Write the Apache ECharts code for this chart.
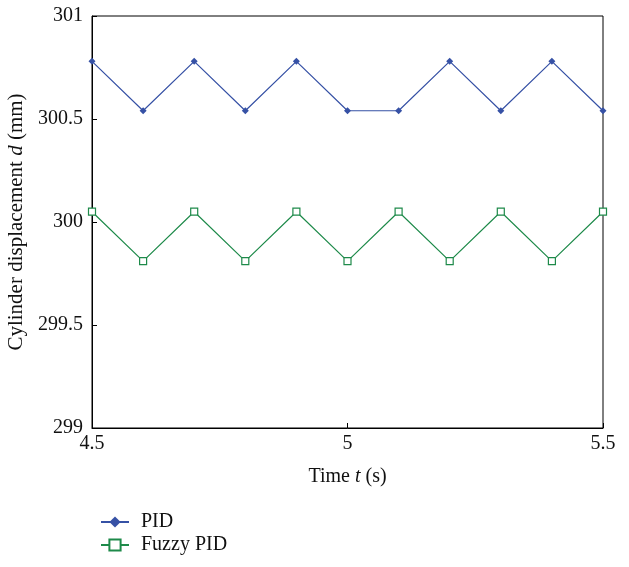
<!DOCTYPE html>
<html><head><meta charset="utf-8">
<script src="https://cdn.jsdelivr.net/npm/echarts@6/dist/echarts.min.js"></script>
<style>html,body{margin:0;padding:0;background:#fff}#c{width:629px;height:567px}</style>
</head><body><div id="c"></div>
<script>
var times = [4.5, 4.6, 4.7, 4.8, 4.9, 5.0, 5.1, 5.2, 5.3, 5.4, 5.5];
var pid = [300.78, 300.54, 300.78, 300.54, 300.78, 300.54, 300.54, 300.78, 300.54, 300.78, 300.54];
var fuzzy = [300.05, 299.81, 300.05, 299.81, 300.05, 299.81, 300.05, 299.81, 300.05, 299.81, 300.05];
function pairs(v){ return times.map(function(t,i){ return [t, v[i]]; }); }
var font = 'Liberation Serif';
var chart = echarts.init(document.getElementById('c'));
chart.setOption({
  animation: false,
  backgroundColor: '#fff',
  grid: { left: 92, right: 26, top: 16, bottom: 139, show: true, borderColor: '#000', borderWidth: 1, backgroundColor: 'transparent', containLabel: false, outerBoundsMode: 'none' },
  xAxis: {
    type: 'value', min: 4.5, max: 5.5, interval: 0.5,
    name: '{n|Time }{i|t}{n| (s)}', nameLocation: 'middle', nameGap: 39,
    nameTextStyle: { rich: { n: { fontFamily: font, fontSize: 20, color: '#111' }, i: { fontFamily: font, fontSize: 20, fontStyle: 'italic', color: '#111' } } },
    axisLine: { show: true, lineStyle: { color: '#000', width: 1 } },
    axisTick: { show: true, inside: true, length: 5, lineStyle: { color: '#000' } },
    axisLabel: { fontFamily: font, fontSize: 20, color: '#111', margin: 6 },
    splitLine: { show: false }
  },
  yAxis: {
    type: 'value', min: 299, max: 301, interval: 0.5,
    name: '{n|Cylinder displacement }{i|d}{n| (mm)}', nameLocation: 'middle', nameGap: 62,
    nameTextStyle: { rich: { n: { fontFamily: font, fontSize: 21, color: '#111' }, i: { fontFamily: font, fontSize: 21, fontStyle: 'italic', color: '#111' } } },
    axisLine: { show: true, lineStyle: { color: '#000', width: 1 } },
    axisTick: { show: true, inside: true, length: 5, lineStyle: { color: '#000' } },
    axisLabel: { fontFamily: font, fontSize: 20, color: '#111', margin: 9 },
    splitLine: { show: false }
  },
  legend: {
    orient: 'vertical', left: 100, top: 512, height: 55, padding: 0, itemWidth: 28, itemHeight: 14, itemGap: 3,
    textStyle: { fontFamily: font, fontSize: 20, color: '#111', padding: [0,0,0,7] },
    data: ['PID', 'Fuzzy PID']
  },
  series: [
    { name: 'PID', type: 'line', data: pairs(pid), color: '#3651a5',
      lineStyle: { width: 1.2, color: '#3651a5' }, symbol: 'diamond', symbolSize: 7,
      itemStyle: { color: '#3651a5' }, showAllSymbol: true },
    { name: 'Fuzzy PID', type: 'line', data: pairs(fuzzy), color: '#1e8a4a',
      lineStyle: { width: 1.2, color: '#1e8a4a' }, symbol: 'rect', symbolSize: 7,
      itemStyle: { color: '#fff', borderColor: '#1e8a4a', borderWidth: 1.2 }, showAllSymbol: true }
  ]
});
</script></body></html>
